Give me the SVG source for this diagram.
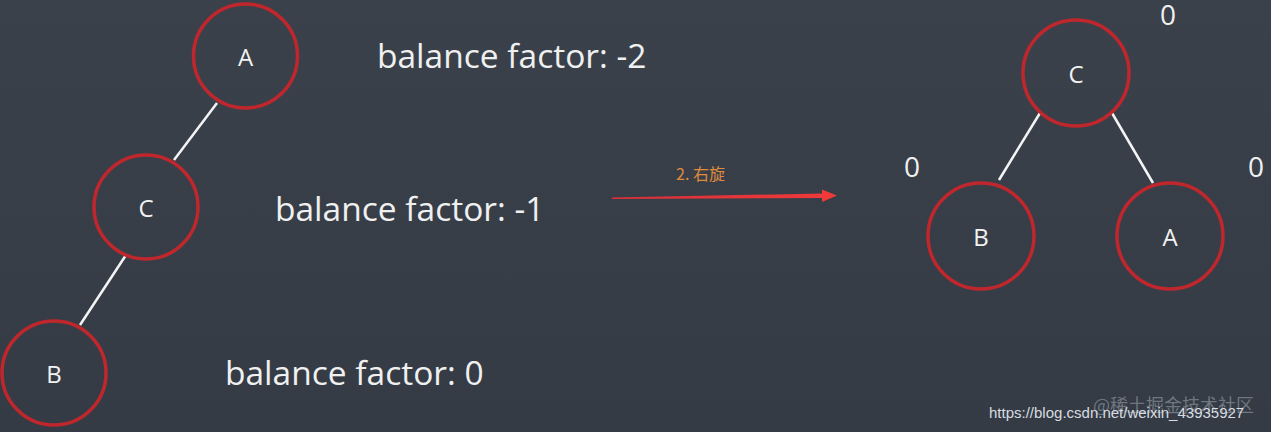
<svg xmlns="http://www.w3.org/2000/svg" width="1271" height="432" viewBox="0 0 1271 432">
<defs>
<linearGradient id="bg" x1="0" y1="0" x2="0" y2="1">
<stop offset="0" stop-color="#3a414b"/>
<stop offset="1" stop-color="#343b45"/>
</linearGradient>
<linearGradient id="arr" x1="0" y1="0" x2="1" y2="0">
<stop offset="0" stop-color="#d9303a"/>
<stop offset="1" stop-color="#f03a3a"/>
</linearGradient>
<style>
.node{fill:none;stroke:#c0272d;stroke-width:3.5}
.lbl{fill:#f2f2f2;font-family:"Open Sans","Liberation Sans",sans-serif;font-size:24px;text-anchor:middle}
.edge{stroke:#f4f4f4;stroke-width:2.5}
.bf{fill:#f0f0f0;font-family:"Open Sans","Liberation Sans",sans-serif;font-size:33.5px}
.zero{fill:#f0f0f0;font-family:"Open Sans","Liberation Sans",sans-serif;font-size:28px;text-anchor:middle}
</style>
</defs>
<rect width="1271" height="432" fill="url(#bg)"/>
<g id="connectors">
<line class="edge" x1="217" y1="103" x2="174" y2="160"/>
<line class="edge" x1="126" y1="255" x2="80" y2="325"/>
<line class="edge" x1="1040" y1="113" x2="999" y2="180"/>
<line class="edge" x1="1112" y1="113" x2="1153" y2="183"/>
<path d="M612 197.5 L612 199 L822 198 L822 202 L837 195.5 L822 189.5 L822 193.5 Z" fill="url(#arr)"/>
<text x="676" y="180" fill="#e08a3c" font-family="'Noto Sans CJK SC','Liberation Serif',serif" font-size="16">2. 右旋</text>
</g>
<g id="nodeA1"><circle class="node" cx="245.5" cy="56" r="52"/><text class="lbl" x="245.5" y="66">A</text></g>
<g id="nodeC1"><circle class="node" cx="146" cy="207" r="52"/><text class="lbl" x="146" y="217">C</text></g>
<g id="nodeB1"><circle class="node" cx="54" cy="373" r="52"/><text class="lbl" x="54" y="383">B</text></g>
<g id="nodeC2"><circle class="node" cx="1076" cy="73" r="53"/><text class="lbl" x="1076" y="83">C</text></g>
<g id="nodeB2"><circle class="node" cx="981" cy="236" r="53"/><text class="lbl" x="981" y="246">B</text></g>
<g id="nodeA2"><circle class="node" cx="1170" cy="236" r="53"/><text class="lbl" x="1170" y="246">A</text></g>
<g id="labels">
<text class="bf" x="377" y="68">balance factor: -2</text>
<text class="bf" x="275" y="221">balance factor: -1</text>
<text class="bf" x="225" y="385">balance factor: 0</text>
<text class="zero" x="1168" y="25">0</text>
<text class="zero" x="912" y="177">0</text>
<text class="zero" x="1256" y="177">0</text>
</g>
<g id="watermark">
<text x="1093" y="412" fill="#9aa0a8" fill-opacity="0.6" font-family="'Noto Sans CJK SC',sans-serif" font-size="18">@稀土掘金技术社区</text>
<text x="989" y="418" fill="#d8dce0" font-family="'Liberation Sans',sans-serif" font-size="15">https://blog.csdn.net/weixin_43935927</text>
</g>
</svg>
